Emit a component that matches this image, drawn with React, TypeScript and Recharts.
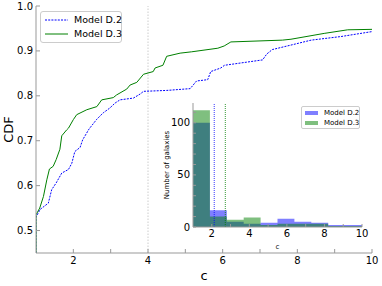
import React from "react";
import {
  LineChart,
  Line,
  XAxis,
  YAxis,
  ReferenceLine,
  ComposedChart,
  Area,
} from "recharts";

// CDF of concentration c
const cdfD2 = [
  { c: 1.0, p: 0.45 },
  { c: 1.0, p: 0.53 },
  { c: 1.11, p: 0.547 },
  { c: 1.33, p: 0.561 },
  { c: 1.42, p: 0.591 },
  { c: 1.54, p: 0.606 },
  { c: 1.69, p: 0.628 },
  { c: 1.87, p: 0.636 },
  { c: 1.96, p: 0.65 },
  { c: 2.04, p: 0.676 },
  { c: 2.18, p: 0.685 },
  { c: 2.25, p: 0.702 },
  { c: 2.42, p: 0.726 },
  { c: 2.63, p: 0.748 },
  { c: 2.8, p: 0.762 },
  { c: 2.98, p: 0.773 },
  { c: 3.12, p: 0.784 },
  { c: 3.25, p: 0.791 },
  { c: 3.61, p: 0.795 },
  { c: 3.79, p: 0.804 },
  { c: 3.88, p: 0.81 },
  { c: 4.5, p: 0.812 },
  { c: 5.13, p: 0.816 },
  { c: 5.3, p: 0.833 },
  { c: 5.6, p: 0.836 },
  { c: 5.68, p: 0.854 },
  { c: 5.95, p: 0.862 },
  { c: 6.05, p: 0.868 },
  { c: 7.07, p: 0.88 },
  { c: 7.18, p: 0.893 },
  { c: 7.33, p: 0.903 },
  { c: 7.83, p: 0.913 },
  { c: 8.37, p: 0.924 },
  { c: 9.17, p: 0.932 },
  { c: 10.0, p: 0.943 },
];

const cdfD3 = [
  { c: 1.0, p: 0.45 },
  { c: 1.0, p: 0.535 },
  { c: 1.1, p: 0.55 },
  { c: 1.2, p: 0.576 },
  { c: 1.29, p: 0.613 },
  { c: 1.36, p: 0.637 },
  { c: 1.46, p: 0.643 },
  { c: 1.54, p: 0.658 },
  { c: 1.64, p: 0.681 },
  { c: 1.69, p: 0.711 },
  { c: 1.82, p: 0.724 },
  { c: 1.87, p: 0.728 },
  { c: 2.0, p: 0.747 },
  { c: 2.09, p: 0.758 },
  { c: 2.36, p: 0.769 },
  { c: 2.63, p: 0.776 },
  { c: 2.76, p: 0.791 },
  { c: 3.07, p: 0.796 },
  { c: 3.16, p: 0.802 },
  { c: 3.43, p: 0.815 },
  { c: 3.52, p: 0.824 },
  { c: 3.7, p: 0.83 },
  { c: 3.88, p: 0.848 },
  { c: 4.14, p: 0.854 },
  { c: 4.19, p: 0.862 },
  { c: 4.4, p: 0.868 },
  { c: 4.5, p: 0.888 },
  { c: 4.86, p: 0.895 },
  { c: 5.17, p: 0.898 },
  { c: 5.87, p: 0.906 },
  { c: 6.04, p: 0.911 },
  { c: 6.22, p: 0.92 },
  { c: 7.6, p: 0.924 },
  { c: 7.83, p: 0.926 },
  { c: 8.72, p: 0.939 },
  { c: 9.35, p: 0.947 },
  { c: 10.0, p: 0.948 },
];

// histogram (inset): 10 bins between c=1 and c=10
const binEdges = [1.0, 1.9, 2.8, 3.7, 4.6, 5.5, 6.4, 7.3, 8.2, 9.1, 10.0];
const countsD2 = [100, 16, 5, 3, 4, 8, 5, 4, 2, 2];
const countsD3 = [112, 10, 7, 9, 2, 3, 3, 3, 1, 1];
const medianD2 = 2.13;
const medianD3 = 2.72;

const mainXTicks = [2, 3, 4, 5, 6, 7, 8, 9, 10];
const mainYTicks = [0.5, 0.6, 0.7, 0.8, 0.9, 1.0];
const insetXTicks = [2, 3, 4, 5, 6, 7, 8, 9, 10];
const insetYTicks = [0, 10, 20, 30, 40, 50, 60, 70, 80, 90, 100, 110];

// step outline: each edge carries the count of the bin that starts there,
// the closing edge repeats the last bin
const histData = binEdges.map((e, i) => ({
  c: e,
  d2: countsD2[Math.min(i, countsD2.length - 1)],
  d3: countsD3[Math.min(i, countsD3.length - 1)],
}));

const FONT = "DejaVu Sans";
const SPINE = "#999";
const BLUE = "#0000ff";
const GREEN = "#008000";

const evenOnly = (v: number) => (v % 2 === 0 ? String(v) : "");
const blank = () => "";

export default function App() {
  return (
    <div
      style={{
        position: "absolute",
        left: 0,
        top: 0,
        width: 382,
        height: 286,
        background: "#fff",
        fontFamily: FONT,
      }}
    >
      <LineChart
        width={382}
        height={286}
        margin={{ top: 6, right: 10, bottom: 0, left: 0 }}
      >
        <XAxis
          dataKey="c"
          type="number"
          domain={[1, 10]}
          allowDataOverflow
          ticks={mainXTicks}
          interval={0}
          tickFormatter={evenOnly}
          height={33}
          tickSize={-4}
          tickMargin={8}
          stroke={SPINE}
          tick={{ fill: "#000", fontSize: 10, fontFamily: FONT }}
          label={{
            value: "c",
            position: "insideBottom",
            offset: 6,
            fill: "#000",
            fontSize: 13,
            fontFamily: FONT,
          }}
        />
        <XAxis
          xAxisId="top"
          orientation="top"
          type="number"
          domain={[1, 10]}
          ticks={mainXTicks}
          interval={0}
          tickFormatter={blank}
          height={0}
          tickSize={-4}
          stroke={SPINE}
        />
        <YAxis
          type="number"
          domain={[0.45, 1.0]}
          allowDataOverflow
          ticks={mainYTicks}
          interval={0}
          tickFormatter={(v: number) => v.toFixed(1)}
          width={36}
          tickSize={-4}
          tickMargin={7}
          stroke={SPINE}
          tick={{ fill: "#000", fontSize: 10, fontFamily: FONT }}
          label={{
            value: "CDF",
            angle: -90,
            position: "insideLeft",
            offset: 8,
            fill: "#000",
            fontSize: 13,
            fontFamily: FONT,
            style: { textAnchor: "middle" },
          }}
        />
        <YAxis
          yAxisId="right"
          orientation="right"
          type="number"
          domain={[0.45, 1.0]}
          ticks={mainYTicks}
          interval={0}
          tickFormatter={blank}
          width={0}
          tickSize={-4}
          stroke={SPINE}
        />
        <ReferenceLine x={4} stroke="#cccccc" strokeDasharray="1.5 1.5" />
        <Line
          data={cdfD2}
          dataKey="p"
          type="linear"
          stroke={BLUE}
          strokeWidth={1}
          strokeDasharray="2 1.2"
          dot={false}
          isAnimationActive={false}
        />
        <Line
          data={cdfD3}
          dataKey="p"
          type="linear"
          stroke={GREEN}
          strokeWidth={1}
          dot={false}
          isAnimationActive={false}
        />
      </LineChart>

      {/* main legend */}
      <div
        style={{
          position: "absolute",
          left: 40,
          top: 11,
          width: 80,
          height: 30,
          border: "1px solid #cccccc",
          borderRadius: 3,
          background: "rgba(255,255,255,0.8)",
          fontSize: 9.5,
          color: "#000",
        }}
      >
        {[
          { name: "Model D.2", color: BLUE, dash: "2 1.2", top: 1 },
          { name: "Model D.3", color: GREEN, dash: undefined, top: 15 },
        ].map((r) => (
          <div
            key={r.name}
            style={{
              position: "absolute",
              left: 4,
              top: r.top,
              height: 13,
              display: "flex",
              alignItems: "center",
              whiteSpace: "nowrap",
            }}
          >
            <svg width={23} height={4} style={{ marginRight: 6 }}>
              <line
                x1={0}
                y1={2}
                x2={23}
                y2={2}
                stroke={r.color}
                strokeWidth={1}
                strokeDasharray={r.dash}
              />
            </svg>
            {r.name}
          </div>
        ))}
      </div>

      {/* inset histogram */}
      <div style={{ position: "absolute", left: 150, top: 98 }}>
        <ComposedChart
          width={224}
          height={154}
          data={histData}
          margin={{ top: 5, right: 12, bottom: 0, left: 5 }}
        >
          <Area
            dataKey="d2"
            type="stepAfter"
            fill={BLUE}
            fillOpacity={0.5}
            stroke="none"
            isAnimationActive={false}
          />
          <Area
            dataKey="d3"
            type="stepAfter"
            fill={GREEN}
            fillOpacity={0.5}
            stroke="none"
            isAnimationActive={false}
          />
          <XAxis
            dataKey="c"
            type="number"
            domain={[1, 10]}
            allowDataOverflow
            ticks={insetXTicks}
            interval={0}
            tickFormatter={evenOnly}
            height={25}
            tickSize={-3}
            tickMargin={6}
            stroke={SPINE}
            tick={{ fill: "#000", fontSize: 10, fontFamily: FONT }}
            label={{
              value: "c",
              position: "insideBottom",
              offset: 3,
              fill: "#000",
              fontSize: 7,
              fontFamily: FONT,
            }}
          />
          <XAxis
            xAxisId="t"
            orientation="top"
            type="number"
            domain={[1, 10]}
            ticks={insetXTicks}
            interval={0}
            tickFormatter={blank}
            height={0}
            tickSize={-3}
            stroke={SPINE}
          />
          <YAxis
            type="number"
            domain={[0, 119]}
            allowDataOverflow
            ticks={insetYTicks}
            interval={0}
            tickFormatter={(v: number) => (v % 50 === 0 ? String(v) : "")}
            width={38}
            tickSize={-3}
            tickMargin={6}
            stroke={SPINE}
            tick={{ fill: "#000", fontSize: 10, fontFamily: FONT }}
            label={{
              value: "Number of galaxies",
              angle: -90,
              position: "insideLeft",
              offset: 12,
              fill: "#000",
              fontSize: 7,
              fontFamily: FONT,
              style: { textAnchor: "middle" },
            }}
          />
          <YAxis
            yAxisId="r"
            orientation="right"
            type="number"
            domain={[0, 119]}
            ticks={insetYTicks}
            interval={0}
            tickFormatter={blank}
            width={0}
            tickSize={-3}
            stroke={SPINE}
          />
          <ReferenceLine
            x={medianD2}
            stroke={BLUE}
            strokeWidth={0.8}
            strokeDasharray="1 1"
          />
          <ReferenceLine
            x={medianD3}
            stroke={GREEN}
            strokeWidth={0.8}
            strokeDasharray="1 1"
          />
        </ComposedChart>
      </div>

      {/* inset legend */}
      <div
        style={{
          position: "absolute",
          left: 301,
          top: 106,
          width: 57,
          height: 21,
          border: "1px solid #cccccc",
          borderRadius: 2,
          background: "rgba(255,255,255,0.8)",
          fontSize: 7,
          color: "#000",
        }}
      >
        {[
          { name: "Model D.2", color: BLUE, top: 1 },
          { name: "Model D.3", color: GREEN, top: 11 },
        ].map((r) => (
          <div
            key={r.name}
            style={{
              position: "absolute",
              left: 3,
              top: r.top,
              height: 9,
              display: "flex",
              alignItems: "center",
              whiteSpace: "nowrap",
            }}
          >
            <div
              style={{
                width: 13,
                height: 4,
                background: r.color,
                opacity: 0.5,
                marginRight: 6,
              }}
            />
            {r.name}
          </div>
        ))}
      </div>
    </div>
  );
}
